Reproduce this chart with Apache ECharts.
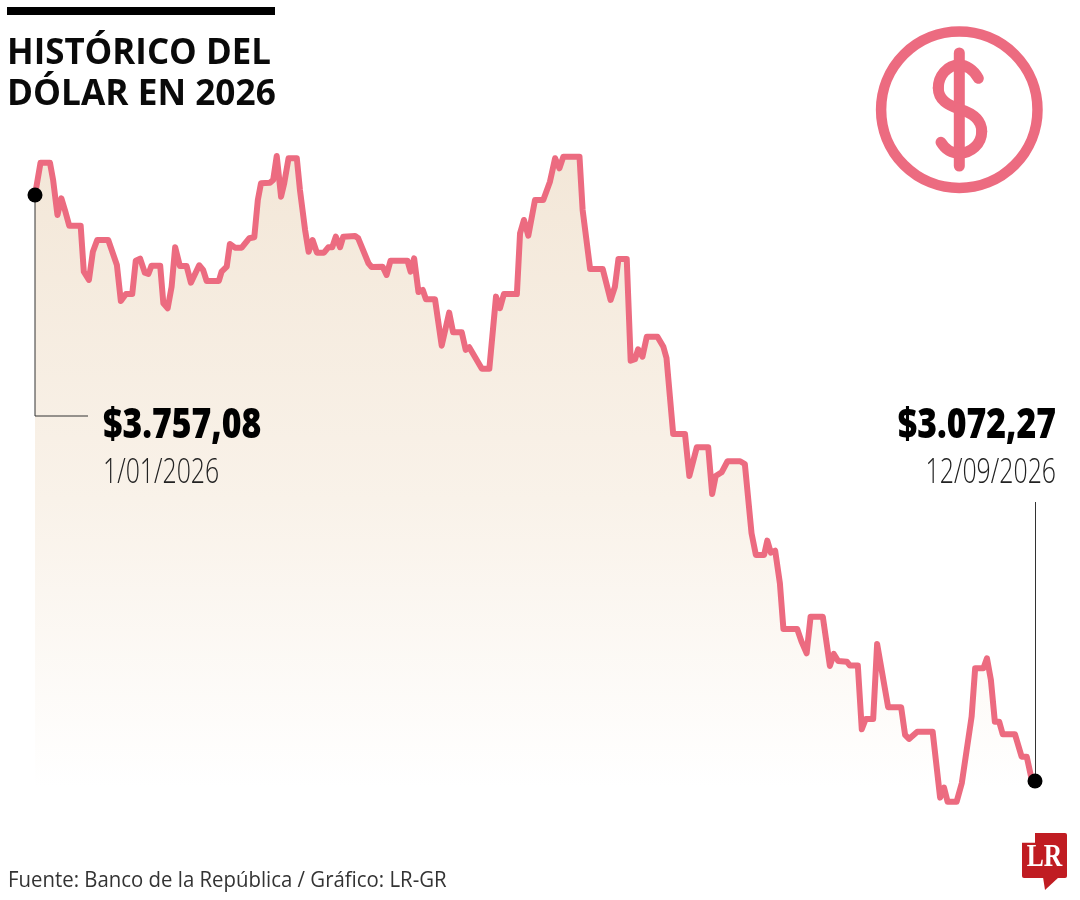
<!DOCTYPE html>
<html>
<head>
<meta charset="utf-8">
<title>Histórico del dólar en 2026</title>
<script src="https://cdn.jsdelivr.net/npm/echarts@6/dist/echarts.min.js"></script>
<style>
  html, body { margin: 0; padding: 0; background: #fff; }
  #main { width: 1080px; height: 900px; }
</style>
</head>
<body>
<div id="main"></div>
<script>
// days since 1/01/2026
var dayOffset = [0, 1.4, 3.8, 4.6, 5.7, 6.7, 7.6, 8.7, 11.6, 12.4, 13.7, 14.7, 15.8, 18.6, 20.8, 21.8, 23.1, 24.7, 25.6, 26.7,
  27.9, 28.8, 29.6, 31.8, 32.6, 33.7, 34.7, 35.6, 36.8, 38.5, 39.6, 41.7, 42.7, 43.6, 46.7, 47.4, 48.7, 49.5, 50.8, 52.5,
  54.4, 55.7, 56.6, 57.4, 59.7, 60.5, 61.4, 62.5, 63.3, 64.4, 66.5, 67.3, 68.6, 69.5, 70.5, 71.6, 73.4, 74.5, 75.5, 76.4,
  77.5, 78.3, 81.3, 82.1, 84.7, 85.5, 88.3, 89.3, 90.3, 94.6, 95.4, 96.3, 97.4, 98.5, 99.3, 101.6, 103.3, 105.2, 106.2, 108.4,
  109.4, 110.3, 113.5, 115.4, 117.1, 118.1, 119.1, 122.4, 123.2, 124.2, 125.3, 127, 129.1, 130.8, 132.1, 133.2, 134.2, 138.3, 139.1, 141,
  144.2, 146.2, 147.3, 148.2, 150.3, 151.3, 152.4, 153.2, 154.3, 155.4, 158.1, 159.6, 160.4, 162.1, 165.1, 166.2, 168.1, 171, 172, 172.9,
  174.4, 175.9, 179.1, 180.3, 182, 183.1, 185.2, 186, 186.9, 188, 189.2, 190.1, 193.6, 194.7, 196, 197, 200.1, 201.9, 202.9, 204,
  206.2, 207, 209, 210, 211, 212.9, 213.9, 216.7, 220, 221, 222, 224.1, 228, 229.9, 230.9, 231.8, 234.1, 235.4, 237.9, 238.8,
  240.9, 241.8, 242.8, 243.8, 244.9, 245.8, 248.9, 250.6, 251.9, 253, 254];

// pesos por dólar
var trm = [3757.08, 3794.8, 3794.8, 3774.6, 3733.7, 3753.2, 3739.5, 3721.2, 3721.2, 3667.4, 3657.8, 3690.8, 3704.5, 3704.5, 3675.3, 3633.2, 3641.4, 3641.4, 3680.3, 3682.7,
  3666.3, 3664.8, 3674.5, 3674.5, 3630.5, 3624.7, 3649.9, 3696, 3674.1, 3674.1, 3654.6, 3674.9, 3669.5, 3656.6, 3656.6, 3667.4, 3673.3, 3699.8, 3695.5, 3695.5,
  3706.5, 3707.7, 3751.3, 3770.8, 3771.5, 3774.6, 3802.7, 3755.1, 3770.8, 3800, 3800, 3762.9, 3716.2, 3690.8, 3704.5, 3689.7, 3689.7, 3696, 3696, 3708.4,
  3696, 3708.4, 3709.2, 3706.5, 3677.3, 3673, 3673.3, 3663.6, 3680.3, 3680.3, 3667.4, 3683.1, 3643.7, 3646.1, 3635.2, 3635.2, 3581, 3619.6, 3596.6, 3596.6,
  3576, 3579.1, 3554.1, 3554.1, 3638.3, 3624.7, 3641.4, 3641.4, 3712.3, 3727.9, 3709.5, 3751.3, 3751.3, 3772.6, 3800, 3788.3, 3801.9, 3801.9, 3739.5, 3670.6,
  3670.6, 3634.4, 3649.9, 3682.3, 3682.3, 3563.5, 3565.1, 3576.8, 3568.1, 3591.5, 3591.5, 3579.8, 3566.6, 3477.8, 3477.8, 3428.7, 3462.3, 3462.3, 3407.7, 3428.7,
  3433, 3445.9, 3445.9, 3442.7, 3361.8, 3336.4, 3336.4, 3353.1, 3339.1, 3341.4, 3303.3, 3249.9, 3249.9, 3235.1, 3221.5, 3264.3, 3264.3, 3206.7, 3220.7, 3212.5,
  3211.7, 3207.1, 3207.1, 3132.7, 3144.8, 3144.8, 3232.4, 3158.4, 3158.4, 3126.1, 3121.4, 3129.9, 3129.9, 3052.8, 3064.5, 3048.1, 3048.1, 3069.6, 3147.4, 3204,
  3204, 3215.7, 3190.3, 3141.6, 3141.6, 3126.9, 3126.9, 3100.7, 3100.7, 3077.3, 3072.27];

var LINE_COLOR = '#ec6b80';
var FONT = '"Open Sans", sans-serif';

var lineData = dayOffset.map(function (d, i) { return [d, trm[i]]; });
var lastIdx = trm.length - 1;

function label(txt, x, y, size, weight, color, scaleX, align) {
  return {
    type: 'text', x: x, y: y, scaleX: scaleX, z: 20,
    style: {
      text: txt,
      font: weight + ' ' + size + 'px ' + FONT,
      fill: color,
      textAlign: align || 'left',
      textVerticalAlign: 'middle'
    }
  };
}

// un tramo de la S del icono
function curve(x1, y1, cpx1, cpy1, cpx2, cpy2, x2, y2) {
  return {
    type: 'bezierCurve',
    shape: { x1: x1, y1: y1, cpx1: cpx1, cpy1: cpy1, cpx2: cpx2, cpy2: cpy2, x2: x2, y2: y2 },
    style: { fill: 'none', stroke: LINE_COLOR, lineWidth: 11, lineCap: 'round' }
  };
}

var myChart = echarts.init(document.getElementById('main'));

var option = {
  animation: false,
  backgroundColor: '#fff',
  grid: { left: 35, width: 1000, top: 72.7, height: 770.1 },
  xAxis: { type: 'value', min: 0, max: 254, show: false },
  yAxis: { type: 'value', min: 3000, max: 3900, show: false },
  series: [
    {
      type: 'line',
      data: lineData,
      symbol: 'none',
      z: 3,
      lineStyle: { color: LINE_COLOR, width: 6, join: 'round' },
      areaStyle: {
        opacity: 1,
        color: {
          type: 'linear', x: 0, y: 0, x2: 0, y2: 1,
          colorStops: [
            { offset: 0, color: '#f3e7d8' },
            { offset: 0.5, color: '#f9f2e9' },
            { offset: 0.92, color: '#ffffff' },
            { offset: 1, color: '#ffffff' }
          ]
        }
      }
    },
    {
      type: 'scatter',
      data: [lineData[0], lineData[lastIdx]],
      symbolSize: 15,
      z: 5,
      itemStyle: { color: '#000', opacity: 1 }
    }
  ],
  graphic: [
    // barra y titulo
    { type: 'rect', shape: { x: 7, y: 7, width: 268, height: 8 }, style: { fill: '#000' } },
    label('HISTÓRICO DEL', 7, 54, 36.5, 'bold', '#0a0a0a', 0.955),
    label('DÓLAR EN 2026', 7, 95, 36.5, 'bold', '#0a0a0a', 0.965),

    // lineas guia
    { type: 'polyline', shape: { points: [[35, 195], [35, 416], [88, 416]] }, style: { stroke: '#333', lineWidth: 1, fill: 'none' }, z: 4 },
    { type: 'line', shape: { x1: 1035.5, y1: 502, x2: 1035.5, y2: 781 }, style: { stroke: '#333', lineWidth: 1 }, z: 4 },

    // etiquetas
    label('$3.757,08', 103, 426, 43, '800', '#000', 0.785),
    label('1/01/2026', 103, 473, 35, '300', '#222', 0.71),
    label('$3.072,27', 1056, 426, 43, '800', '#000', 0.785, 'right'),
    label('12/09/2026', 1056, 473, 35, '300', '#222', 0.71, 'right'),

    // icono
    { type: 'circle', shape: { cx: 959.3, cy: 109.7, r: 78.2 }, style: { fill: 'none', stroke: LINE_COLOR, lineWidth: 10.5 } },
    { type: 'line', shape: { x1: 959.3, y1: 53, x2: 959.3, y2: 166 }, style: { stroke: LINE_COLOR, lineWidth: 11, lineCap: 'round' } },
    curve(978.3, 78.3, 974, 70, 966, 65, 959.3, 65),
    curve(959.3, 65, 947, 65, 938.3, 76, 938.3, 88),
    curve(938.3, 88, 938.3, 100, 948, 105, 959.3, 109),
    curve(959.3, 109, 972, 113, 981.7, 119, 981.7, 131.5),
    curve(981.7, 131.5, 981.7, 144, 971, 153.3, 959.3, 153.3),
    curve(959.3, 153.3, 951, 153.3, 945, 149, 941, 142.3),

    // pie
    label('Fuente: Banco de la República / Gráfico: LR-GR', 8, 881, 21, 'normal', '#333', 0.97),

    // logo
    { type: 'rect', shape: { x: 1022, y: 833, width: 45, height: 45, r: 2 }, style: { fill: '#c01c22' } },
    { type: 'polygon', shape: { points: [[1043, 877], [1059, 877], [1045, 890]] }, style: { fill: '#c01c22' } },
    { type: 'text', x: 1044.5, y: 858, scaleX: 0.8, z: 20, style: { text: 'LR', font: 'bold 32px "Liberation Serif", serif', fill: '#fff', textAlign: 'center', textVerticalAlign: 'middle' } }
  ]
};

option && myChart.setOption(option);
</script>
</body>
</html>
